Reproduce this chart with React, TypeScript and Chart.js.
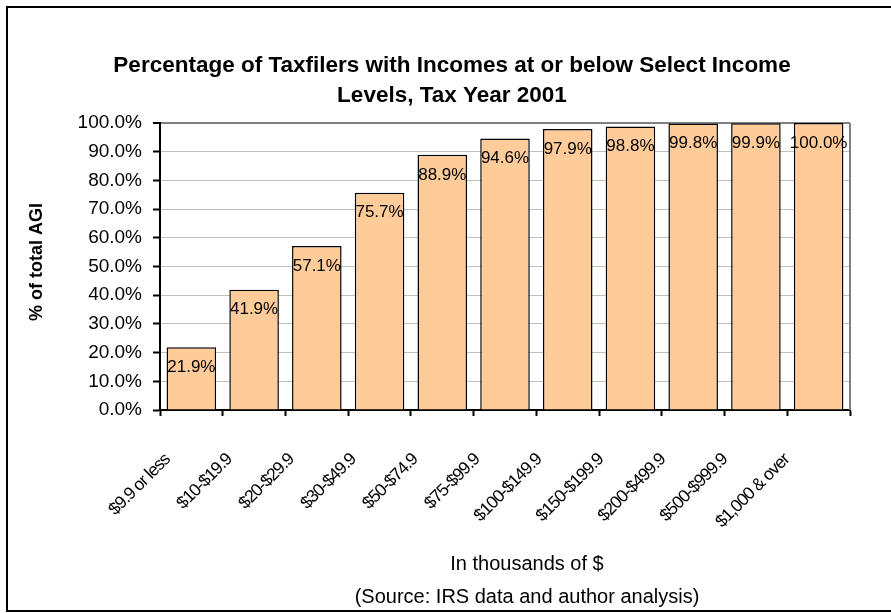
import React, { useEffect, useRef } from "react";
import { Chart, registerables } from "chart.js";

Chart.register(...registerables);

const categories = [
  "$9.9 or less",
  "$10-$19.9",
  "$20-$29.9",
  "$30-$49.9",
  "$50-$74.9",
  "$75-$99.9",
  "$100-$149.9",
  "$150-$199.9",
  "$200-$499.9",
  "$500-$999.9",
  "$1,000 & over",
];
const values = [21.9, 41.9, 57.1, 75.7, 88.9, 94.6, 97.9, 98.8, 99.8, 99.9, 100.0];
const titleLines = [
  "Percentage of Taxfilers with Incomes at or below Select Income",
  "Levels, Tax Year 2001",
];
const yAxisTitle = "% of total AGI";
const xAxisTitle = "In thousands of $";
const sourceNote = "(Source: IRS data and author analysis)";

const FONT = '"Liberation Sans", Arial, sans-serif';

const decorPlugin = {
  id: "decor",
  beforeDraw(chart: any) {
    const ctx = chart.ctx;
    ctx.save();
    ctx.fillStyle = "#ffffff";
    ctx.fillRect(0, 0, chart.width, chart.height);
    ctx.strokeStyle = "#000000";
    ctx.lineWidth = 2;
    ctx.strokeRect(7, 7, 900, 604);
    ctx.restore();
  },
  beforeDatasetsDraw(chart: any) {
    const ctx = chart.ctx;
    const a = chart.chartArea;
    ctx.save();
    ctx.strokeStyle = "#808080";
    ctx.lineWidth = 2;
    ctx.beginPath();
    ctx.moveTo(a.right, a.top);
    ctx.lineTo(a.right, a.bottom);
    ctx.stroke();
    ctx.restore();
  },
  afterDatasetsDraw(chart: any) {
    const ctx = chart.ctx;
    const meta = chart.getDatasetMeta(0);
    ctx.save();
    ctx.fillStyle = "#000000";
    ctx.font = `17px ${FONT}`;
    ctx.textAlign = "center";
    ctx.textBaseline = "middle";
    meta.data.forEach((bar: any, i: number) => {
      ctx.fillText(values[i].toFixed(1) + "%", bar.x, bar.y + 20);
    });
    ctx.restore();
  },
  afterDraw(chart: any) {
    const ctx = chart.ctx;
    const a = chart.chartArea;
    const xs = chart.scales.x;
    ctx.save();
    ctx.fillStyle = "#000000";
    // title
    ctx.font = `bold 22.5px ${FONT}`;
    ctx.textAlign = "center";
    ctx.textBaseline = "middle";
    ctx.fillText(titleLines[0], 452, 66);
    ctx.fillText(titleLines[1], 452, 96);
    // y axis title
    ctx.save();
    ctx.translate(37, 262);
    ctx.rotate(-Math.PI / 2);
    ctx.font = `bold 18px ${FONT}`;
    ctx.fillText(yAxisTitle, 0, 0);
    ctx.restore();
    // x labels
    ctx.save();
    ctx.font = `17.5px ${FONT}`;
    (ctx as any).letterSpacing = "-1px";
    ctx.textAlign = "right";
    ctx.textBaseline = "middle";
    categories.forEach((c, i) => {
      const px = xs.getPixelForValue(i) - 24 - 0.8 * i;
      const py = a.bottom + 47;
      ctx.save();
      ctx.translate(px, py);
      ctx.rotate(-Math.PI / 4);
      ctx.fillText(c, 0, 0);
      ctx.restore();
    });
    ctx.restore();
    // x title and source
    ctx.font = `20px ${FONT}`;
    ctx.textAlign = "center";
    ctx.textBaseline = "middle";
    ctx.fillText(xAxisTitle, 527, 564);
    ctx.fillText(sourceNote, 527, 597);
    ctx.restore();
  },
};

export default function App() {
  const ref = useRef<HTMLCanvasElement | null>(null);
  useEffect(() => {
    if (!ref.current) return;
    const chart = new Chart(ref.current, {
      type: "bar",
      data: {
        labels: categories,
        datasets: [
          {
            data: values,
            backgroundColor: "#FFCC99",
            borderColor: "#000000",
            borderWidth: 1.5,
            barPercentage: 0.79,
            categoryPercentage: 1,
          },
        ],
      },
      options: {
        animation: false,
        responsive: false,
        devicePixelRatio: 1,
        layout: { padding: { top: 123, right: 41, left: 0, bottom: 0 } },
        plugins: {
          legend: { display: false },
          title: { display: false },
          tooltip: { enabled: false },
        },
        scales: {
          x: {
            type: "category",
            offset: true,
            ticks: { display: false },
            grid: {
              display: true,
              offset: true,
              drawOnChartArea: false,
              drawTicks: true,
              tickLength: 6,
              tickColor: "#000000",
              tickWidth: 2,
            },
            border: { display: true, color: "#000000", width: 2 },
            afterFit: (s: any) => {
              s.height = 203;
            },
          },
          y: {
            min: 0,
            max: 100,
            ticks: {
              stepSize: 10,
              callback: (v: any) => Number(v).toFixed(1) + "%",
              font: { family: FONT, size: 19 },
              color: "#000000",
              padding: 11,
            },
            grid: {
              color: (c: any) => (c.tick && c.tick.value === 100 ? "#808080" : "#C0C0C0"),
              lineWidth: (c: any) => (c.tick && c.tick.value === 100 ? 2 : 1),
              tickColor: "#000000",
              tickLength: 7,
              tickWidth: 2,
            },
            border: { display: true, color: "#000000", width: 2 },
            afterFit: (s: any) => {
              s.width = 160;
            },
          },
        },
      },
      plugins: [decorPlugin],
    });
    return () => chart.destroy();
  }, []);
  return (
    <div style={{ position: "absolute", left: 0, top: 0, width: 891, height: 613 }}>
      <canvas ref={ref} width={891} height={613} style={{ display: "block" }} />
    </div>
  );
}
